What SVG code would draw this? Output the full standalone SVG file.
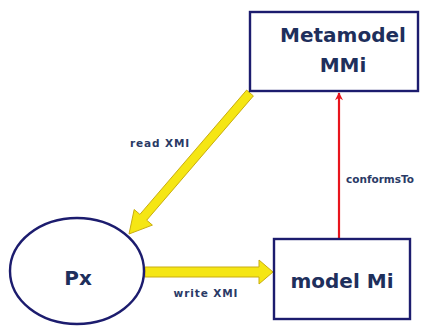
<svg xmlns="http://www.w3.org/2000/svg" width="422" height="326" viewBox="0 0 422 326">
<style>
.node{fill:#ffffff;stroke:#1c1c6e;stroke-width:2.4}
.big{font-family:"DejaVu Sans",sans-serif;font-weight:bold;font-size:20px;fill:#1e2f5c;text-anchor:middle}
.lbl{font-family:"DejaVu Sans",sans-serif;font-weight:bold;font-size:10.5px;fill:#2a3a66;text-anchor:middle}
.wide{letter-spacing:0.9px}
.yarrow{fill:#f5e614;stroke:#c9ad10;stroke-width:1;stroke-linejoin:round}
</style>
<defs>
<marker id="redhead" viewBox="0 0 10 10" refX="9" refY="5" markerWidth="10" markerHeight="8" markerUnits="userSpaceOnUse" orient="auto">
<path d="M0,0 L10,5 L0,10 L3,5 z" fill="#e8141c"/>
</marker>
</defs>
<rect width="422" height="326" fill="#ffffff"/>
<g id="connectors">
<polygon class="yarrow" points="246.6,90.1 253.4,95.9 146.7,220.2 152.4,225.1 129,234 134.2,209.5 139.9,214.4"/>
<polygon class="yarrow" points="145,267 259,267 259,260 273,272 259,284 259,277 145,277"/>
<line x1="339" y1="238" x2="339" y2="93" stroke="#e8141c" stroke-width="2.2" marker-end="url(#redhead)"/>
<text class="lbl wide" x="160" y="147">read XMI</text>
<text class="lbl wide" x="206" y="297">write XMI</text>
<text class="lbl" x="380" y="183">conformsTo</text>
</g>
<g id="metamodel">
<rect class="node" x="250" y="12" width="168" height="79"/>
<text class="big" x="343" y="42">Metamodel</text>
<text class="big" x="343" y="72">MMi</text>
</g>
<g id="px">
<ellipse class="node" cx="77" cy="271" rx="67" ry="53"/>
<text class="big" x="78" y="285">Px</text>
</g>
<g id="model">
<rect class="node" x="274" y="239" width="136" height="80"/>
<text class="big" x="342" y="288">model Mi</text>
</g>
</svg>
